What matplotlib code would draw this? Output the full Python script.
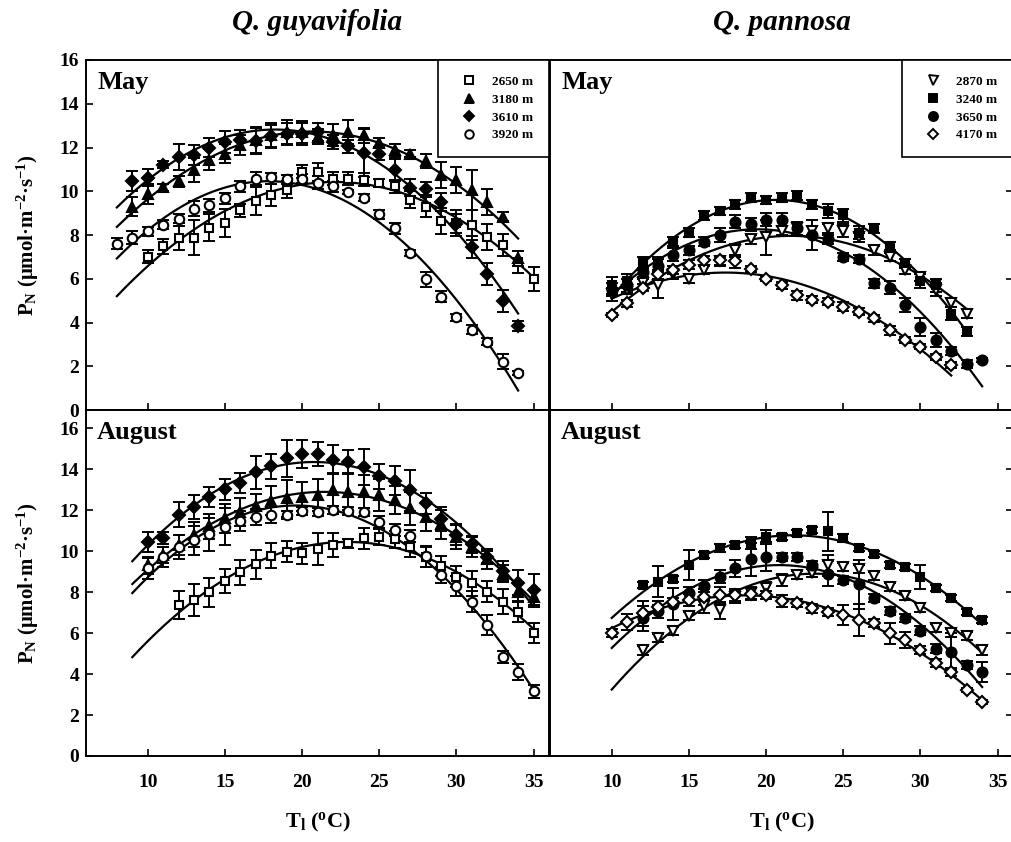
import numpy as np
import matplotlib.pyplot as plt
from matplotlib.lines import Line2D

plt.rcParams['font.family'] = ['Liberation Serif', 'DejaVu Serif']
plt.rcParams['font.weight'] = 'bold'
plt.rcParams['mathtext.fontset'] = 'custom'
plt.rcParams['mathtext.rm'] = 'Liberation Serif:bold'
plt.rcParams['mathtext.it'] = 'Liberation Serif:bold:italic'
plt.rcParams['mathtext.bf'] = 'Liberation Serif:bold'

# ---- data: net photosynthesis P_N at leaf temperature T (one point per degree) ----
# May, Q. guyavifolia
may_gu_2650_t0 = 10
may_gu_2650 = [7.0, 7.49, 7.87, 7.88, 8.34, 8.55, 9.13, 9.56, 9.82, 10.08, 10.9, 10.88, 10.58,
               10.58, 10.53, 10.38, 10.23, 9.62, 9.28, 8.65, 8.55, 8.45, 7.91, 7.53, 6.77, 5.97]
may_gu_2650_se = [0.3, 0.35, 0.55, 0.8, 0.6, 0.65, 0.3, 0.65, 0.5, 0.4, 0.3, 0.4, 0.3, 0.3, 0.3,
                  0.2, 0.3, 0.4, 0.45, 0.6, 0.6, 0.7, 0.6, 0.5, 0.5, 0.55]
may_gu_3180_t0 = 9
may_gu_3180 = [9.3, 9.89, 10.18, 10.45, 10.98, 11.45, 11.72, 12.1, 12.35, 12.55, 12.7, 12.7, 12.5,
               12.56, 12.71, 12.56, 12.22, 11.87, 11.72, 11.38, 10.73, 10.53, 10.05, 9.51, 8.83, 6.93]
may_gu_3180_se = [0.45, 0.45, 0.15, 0.25, 0.55, 0.5, 0.45, 0.45, 0.6, 0.55, 0.55, 0.5, 0.35, 0.5,
                  0.55, 0.35, 0.2, 0.3, 0.15, 0.3, 0.6, 0.6, 0.9, 0.6, 0.2, 0.35]
may_gu_3610_t0 = 9
may_gu_3610 = [10.48, 10.62, 11.22, 11.55, 11.67, 12.0, 12.26, 12.35, 12.3, 12.53, 12.6, 12.6, 12.7,
               12.25, 12.05, 11.75, 11.72, 10.99, 10.17, 10.12, 9.51, 8.52, 7.46, 6.21, 4.99, 3.84]
may_gu_3610_se = [0.45, 0.4, 0.15, 0.6, 0.45, 0.45, 0.5, 0.45, 0.6, 0.5, 0.5, 0.5, 0.4, 0.3, 0.3,
                  1.1, 0.3, 0.5, 0.4, 0.3, 0.4, 0.45, 0.5, 0.5, 0.5, 0.25]
may_gu_3920_t0 = 8
may_gu_3920 = [7.61, 7.87, 8.17, 8.48, 8.75, 9.21, 9.36, 9.67, 10.23, 10.58, 10.65, 10.55, 10.58,
               10.4, 10.23, 9.97, 9.71, 8.95, 8.3, 7.18, 5.97, 5.18, 4.23, 3.68, 3.12, 2.21, 1.7]
may_gu_3920_se = [0.25, 0.3, 0.2, 0.2, 0.2, 0.35, 0.3, 0.25, 0.25, 0.3, 0.2, 0.2, 0.2, 0.3, 0.25,
                  0.1, 0.15, 0.2, 0.25, 0.15, 0.35, 0.25, 0.15, 0.2, 0.15, 0.35, 0.1]

# May, Q. pannosa
may_pa_2870_t0 = 10
may_pa_2870 = [5.3, 5.5, 5.8, 5.7, 6.2, 6.0, 6.4, 6.8, 7.3, 7.8, 7.9, 8.2, 8.3, 8.2, 8.3, 8.2,
               7.9, 7.3, 7.0, 6.4, 6.1, 5.5, 4.9, 4.4]
may_pa_2870_se = [0.3, 0.2, 0.2, 0.6, 0.2, 0.2, 0.2, 0.2, 0.3, 0.2, 0.8, 0.2, 0.3, 0.2, 0.2, 0.3,
                  0.2, 0.2, 0.2, 0.2, 0.2, 0.3, 0.2, 0.2]
may_pa_3240_t0 = 10
may_pa_3240 = [5.7, 5.9, 6.7, 6.7, 7.7, 8.1, 8.9, 9.1, 9.4, 9.7, 9.6, 9.7, 9.8, 9.4, 9.1, 8.9,
               8.1, 8.3, 7.5, 6.7, 5.9, 5.7, 4.4, 3.6]
may_pa_3240_se = [0.4, 0.3, 0.3, 0.3, 0.2, 0.2, 0.2, 0.2, 0.2, 0.2, 0.2, 0.2, 0.2, 0.2, 0.3, 0.3,
                  0.3, 0.2, 0.2, 0.2, 0.3, 0.3, 0.3, 0.2]
may_pa_3650_t0 = 10
may_pa_3650 = [5.5, 5.7, 6.3, 6.6, 7.1, 7.3, 7.7, 8.0, 8.6, 8.5, 8.7, 8.7, 8.3, 8.0, 7.8, 7.0,
               6.9, 5.8, 5.6, 4.8, 3.8, 3.2, 2.7, 2.1, 2.3]
may_pa_3650_se = [0.3, 0.3, 0.2, 0.3, 0.3, 0.2, 0.2, 0.3, 0.3, 0.3, 0.3, 0.3, 0.3, 0.7, 0.2, 0.2,
                  0.2, 0.2, 0.3, 0.3, 0.4, 0.3, 0.2, 0.2, 0.1]
may_pa_4170_t0 = 10
may_pa_4170 = [4.35, 4.87, 5.6, 6.2, 6.4, 6.65, 6.85, 6.85, 6.8, 6.45, 6.0, 5.7, 5.25, 5.05, 4.95,
               4.72, 4.5, 4.19, 3.64, 3.2, 2.9, 2.42, 2.05]
may_pa_4170_se = [0.1, 0.15, 0.15, 0.2, 0.2, 0.2, 0.2, 0.2, 0.3, 0.15, 0.1, 0.15, 0.2, 0.15, 0.15,
                  0.2, 0.15, 0.15, 0.2, 0.15, 0.1, 0.15, 0.15]

# August, Q. guyavifolia
aug_gu_2650_t0 = 12
aug_gu_2650 = [7.37, 7.61, 7.98, 8.54, 8.96, 9.35, 9.77, 9.97, 9.89, 10.1, 10.29, 10.37, 10.62,
               10.67, 10.57, 10.21, 9.7, 9.27, 8.75, 8.42, 8.02, 7.53, 7.04, 6.0]
aug_gu_2650_se = [0.7, 0.8, 0.7, 0.6, 0.6, 0.7, 0.6, 0.5, 0.5, 0.8, 0.6, 0.2, 0.5, 0.4, 0.4, 0.5,
                  0.5, 0.5, 0.5, 0.6, 0.5, 0.6, 0.5, 0.5]
aug_gu_3180_t0 = 10
aug_gu_3180 = [9.3, 9.8, 10.3, 10.8, 11.2, 11.6, 11.9, 12.2, 12.45, 12.57, 12.65, 12.73, 13.0, 12.9,
               12.9, 12.73, 12.49, 12.08, 11.67, 11.3, 10.7, 10.2, 9.6, 8.9, 8.0, 7.77]
aug_gu_3180_se = [0.4, 0.4, 0.5, 0.6, 0.6, 0.7, 0.7, 0.6, 0.7, 0.9, 0.7, 0.8, 0.8, 0.9, 0.8, 0.8,
                  0.7, 0.8, 0.7, 0.7, 0.6, 0.5, 0.5, 0.4, 0.5, 0.4]
aug_gu_3610_t0 = 10
aug_gu_3610 = [10.45, 10.64, 11.78, 12.15, 12.63, 13.01, 13.33, 13.85, 14.13, 14.53, 14.74, 14.74,
               14.45, 14.35, 14.1, 13.65, 13.43, 12.97, 12.32, 11.56, 10.79, 10.32, 9.72, 9.02, 8.45, 8.08]
aug_gu_3610_se = [0.5, 0.3, 0.6, 0.6, 0.5, 0.5, 0.5, 0.8, 0.6, 0.9, 0.7, 0.6, 0.7, 0.6, 0.9, 0.6,
                  0.7, 1.0, 0.5, 0.6, 0.5, 0.4, 0.3, 0.5, 0.6, 0.8]
aug_gu_3920_t0 = 10
aug_gu_3920 = [9.15, 9.72, 10.2, 10.53, 10.81, 11.18, 11.46, 11.67, 11.75, 11.75, 11.95, 11.92, 12.0,
               11.95, 11.9, 11.4, 11.04, 10.72, 9.74, 8.83, 8.3, 7.53, 6.39, 4.83, 4.09, 3.15]
aug_gu_3920_se = [0.5, 0.5, 0.6, 0.7, 0.8, 0.9, 0.5, 0.4, 0.4, 0.2, 0.2, 0.2, 0.2, 0.2, 0.2, 0.3,
                  0.3, 0.3, 0.5, 0.4, 0.5, 0.5, 0.5, 0.3, 0.4, 0.3]

# August, Q. pannosa
aug_pa_2870_t0 = 12
aug_pa_2870 = [5.15, 5.75, 6.1, 6.83, 7.3, 7.1, 7.75, 7.95, 8.2, 8.6, 8.83, 8.91, 9.3, 9.24, 9.12,
               8.78, 8.26, 7.8, 7.24, 6.23, 6.0, 5.84, 5.15]
aug_pa_2870_se = [0.2, 0.2, 0.2, 0.2, 0.3, 0.4, 0.3, 0.3, 0.3, 0.3, 0.2, 0.2, 0.5, 0.2, 0.2, 0.2,
                  0.2, 0.2, 0.2, 0.2, 0.2, 0.2, 0.2]
aug_pa_3240_t0 = 12
aug_pa_3240 = [8.35, 8.5, 8.63, 9.32, 9.82, 10.14, 10.28, 10.4, 10.68, 10.7, 10.88, 11.04, 10.96,
               10.63, 10.16, 9.85, 9.32, 9.2, 8.74, 8.18, 7.7, 7.02, 6.63]
aug_pa_3240_se = [0.15, 0.75, 0.15, 0.75, 0.15, 0.2, 0.15, 0.3, 0.35, 0.15, 0.15, 0.15, 0.95, 0.2,
                  0.15, 0.15, 0.15, 0.15, 0.6, 0.15, 0.15, 0.15, 0.15]
aug_pa_3650_t0 = 12
aug_pa_3650 = [6.72, 7.05, 7.42, 7.93, 8.3, 8.75, 9.15, 9.6, 9.72, 9.72, 9.72, 9.32, 8.9, 8.6, 8.37,
               7.7, 7.06, 6.72, 6.12, 5.24, 5.09, 4.45, 4.1]
aug_pa_3650_se = [0.6, 0.3, 0.8, 0.3, 0.3, 0.3, 0.4, 0.8, 0.7, 0.2, 0.2, 0.2, 0.6, 0.2, 1.2, 0.2,
                  0.2, 0.2, 0.2, 0.2, 0.9, 0.2, 0.5]
aug_pa_4170_t0 = 10
aug_pa_4170 = [6.02, 6.55, 6.96, 7.28, 7.5, 7.6, 7.75, 7.85, 7.85, 7.9, 7.85, 7.55, 7.45, 7.2, 7.04,
               6.88, 6.63, 6.47, 5.98, 5.66, 5.17, 4.52, 4.11, 3.22, 2.63]
aug_pa_4170_se = [0.2, 0.4, 0.6, 0.3, 0.2, 0.3, 0.4, 0.4, 0.3, 0.3, 0.2, 0.3, 0.2, 0.2, 0.2, 0.5,
                  0.8, 0.2, 0.5, 0.4, 0.2, 0.2, 0.2, 0.1, 0.1]

gu_labels = ['2650 m', '3180 m', '3610 m', '3920 m']
pa_labels = ['2870 m', '3240 m', '3650 m', '4170 m']
species = ['Q. guyavifolia', 'Q. pannosa']
months = ['May', 'August']
x_ticks = [10, 15, 20, 25, 30, 35]

# marker, filled?, size
gu_style = [('s', False, 6.2), ('^', True, 7.2), ('D', True, 6.2), ('o', False, 6.8)]
pa_style = [('v', False, 7.2), ('s', True, 6.2), ('o', True, 7.2), ('D', False, 5.8)]

# where the fitted curves start in each panel
curve_start = {('May', 0): 8, ('May', 1): 10, ('August', 0): 9, ('August', 1): 10}

panels = {
    ('May', 0): [(may_gu_2650_t0, may_gu_2650, may_gu_2650_se), (may_gu_3180_t0, may_gu_3180, may_gu_3180_se),
                 (may_gu_3610_t0, may_gu_3610, may_gu_3610_se), (may_gu_3920_t0, may_gu_3920, may_gu_3920_se)],
    ('May', 1): [(may_pa_2870_t0, may_pa_2870, may_pa_2870_se), (may_pa_3240_t0, may_pa_3240, may_pa_3240_se),
                 (may_pa_3650_t0, may_pa_3650, may_pa_3650_se), (may_pa_4170_t0, may_pa_4170, may_pa_4170_se)],
    ('August', 0): [(aug_gu_2650_t0, aug_gu_2650, aug_gu_2650_se), (aug_gu_3180_t0, aug_gu_3180, aug_gu_3180_se),
                    (aug_gu_3610_t0, aug_gu_3610, aug_gu_3610_se), (aug_gu_3920_t0, aug_gu_3920, aug_gu_3920_se)],
    ('August', 1): [(aug_pa_2870_t0, aug_pa_2870, aug_pa_2870_se), (aug_pa_3240_t0, aug_pa_3240, aug_pa_3240_se),
                    (aug_pa_3650_t0, aug_pa_3650, aug_pa_3650_se), (aug_pa_4170_t0, aug_pa_4170, aug_pa_4170_se)],
}

W, H = 1011, 842
fig = plt.figure(figsize=(W / 100, H / 100), dpi=100)

# axes boxes in pixels: (left, top, width, height)
col_left = [86, 550]
row_top = [60, 410]
row_h = [350, 346]
ax_w = 463
row_ylim = [16, 16.88]

for r, month in enumerate(months):
    for c in range(2):
        x0, y0 = col_left[c], row_top[r]
        ax = fig.add_axes([x0 / W, 1 - (y0 + row_h[r]) / H, ax_w / W, row_h[r] / H])
        ax.set_xlim(6, 36)
        ax.set_ylim(0, row_ylim[r])
        ax.set_xticks(x_ticks)
        ax.set_yticks(np.arange(0, 17, 2))
        for s in ax.spines.values():
            s.set_linewidth(1.4)
        ax.tick_params(direction='in', length=5, width=1.2, labelsize=14)
        ax.tick_params(axis='x', top=False, bottom=True, pad=13, labelbottom=(r == 1))
        if c == 0:
            ax.tick_params(axis='y', left=True, right=False, pad=5)
        else:
            # the right edge of the figure cuts through the right frame line
            ax.spines['right'].set_visible(False)
            ax.tick_params(axis='y', left=False, right=True, labelleft=False, labelright=False)

        style = gu_style if c == 0 else pa_style
        labels = gu_labels if c == 0 else pa_labels
        handles = []
        for (t0, vals, se), (mk, filled, ms), lab in zip(panels[(month, c)], style, labels):
            t = np.arange(t0, t0 + len(vals))
            vals = np.array(vals)
            # quadratic fit of the series
            coef = np.polyfit(t, vals, 2)
            tt = np.linspace(curve_start[(month, c)], t[-1], 200)
            ax.plot(tt, np.polyval(coef, tt), color='black', lw=1.6, zorder=2)
            ax.errorbar(t, vals, yerr=se, fmt='none', ecolor='black', elinewidth=1.4,
                        capsize=4, capthick=1.4, zorder=3)
            face = 'black' if filled else 'white'
            ax.plot(t, vals, ls='none', marker=mk, ms=ms, mfc=face, mec='black', mew=1.5, zorder=4)
            handles.append(Line2D([], [], ls='none', marker=mk, ms=ms * 0.9, mfc=face,
                                  mec='black', mew=1.4, label=lab))

        ax.text(0.024, 0.968, month, transform=ax.transAxes, fontsize=19,
                fontweight='bold', ha='left', va='top')

        if r == 0:
            leg = ax.legend(handles=handles, loc='upper right', bbox_to_anchor=(1.0, 1.0),
                            borderaxespad=0, fancybox=False, edgecolor='black', framealpha=1,
                            borderpad=1.2, labelspacing=0.42, handlelength=2.4, handletextpad=0.5,
                            prop={'size': 9.5, 'weight': 'bold'})
            leg.get_frame().set_linewidth(1.2)

# species titles and x labels
for c, name in enumerate(species):
    fig.text((col_left[c] + ax_w / 2) / W, 1 - 22 / H, name, ha='center', va='center',
             fontsize=21, fontweight='bold', style='italic')
    fig.text((col_left[c] + ax_w / 2) / W, 1 - 822 / H, r'T$_\mathrm{l}$ ($^\mathrm{o}$C)',
             ha='center', va='center', fontsize=16, fontweight='bold')

# y labels
for r in range(2):
    fig.text(28 / W, 1 - (row_top[r] + row_h[r] / 2) / H,
             'P$_\\mathrm{N}$ (μmol·m$^{-2}$·s$^{-1}$)',
             rotation=90, ha='center', va='center', fontsize=15, fontweight='bold')

fig.savefig('out.png', dpi=100)
